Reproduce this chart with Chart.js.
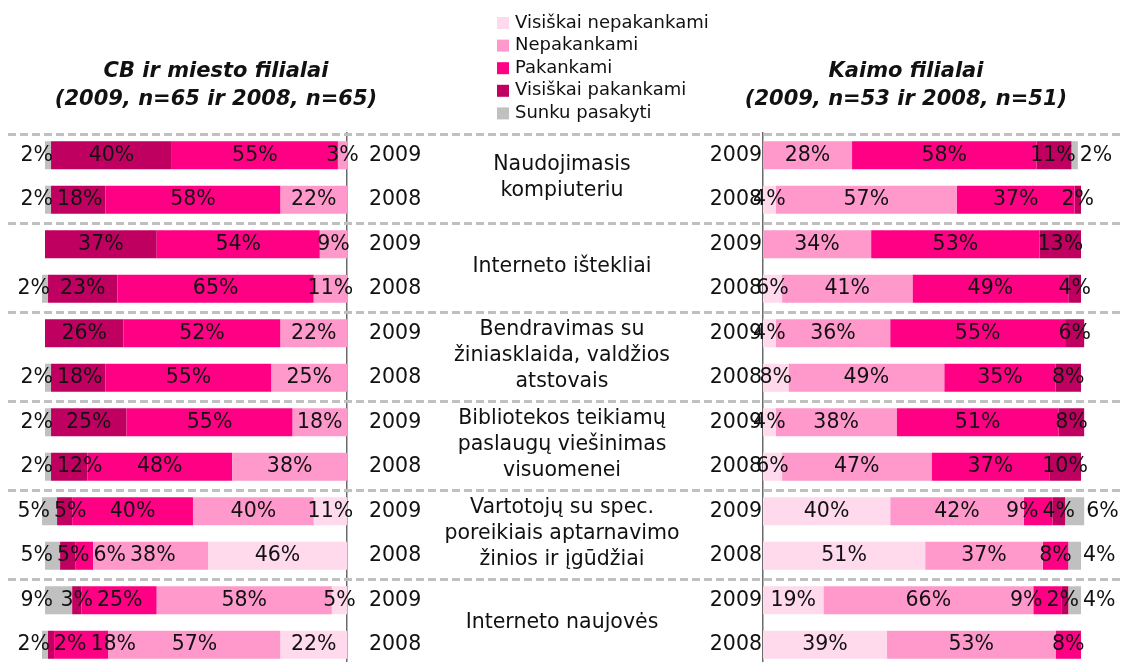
<!DOCTYPE html>
<html>
<head>
<meta charset="utf-8">
<script src="https://cdn.jsdelivr.net/npm/chart.js@4.4.1/dist/chart.umd.min.js"></script>
<style>
  html, body { margin: 0; padding: 0; background: #fff; overflow: hidden; }
  #wrap { position: relative; width: 1122px; height: 662px; overflow: hidden; }
  #wrap canvas { position: absolute; left: 0; top: 0; }
</style>
</head>
<body>
<div id="wrap">
  <!-- the last row runs past the bottom edge, so the canvases are taller than the page -->
  <canvas id="cityChart" width="1122" height="702"></canvas>
  <canvas id="ruralChart" width="1122" height="702"></canvas>
</div>
<script>
const years = ['2009', '2008', '2009', '2008', '2009', '2008', '2009', '2008', '2009', '2008', '2009', '2008'];
const groups = [
  ['Naudojimasis', 'kompiuteriu'],
  ['Interneto ištekliai'],
  ['Bendravimas su', 'žiniasklaida, valdžios', 'atstovais'],
  ['Bibliotekos teikiamų', 'paslaugų viešinimas', 'visuomenei'],
  ['Vartotojų su spec.', 'poreikiais aptarnavimo', 'žinios ir įgūdžiai'],
  ['Interneto naujovės']
];
const answers = ['Visiškai nepakankami', 'Nepakankami', 'Pakankami', 'Visiškai pakankami', 'Sunku pasakyti'];
const colors = ['#ffd9ec', '#ff99cc', '#ff0084', '#c00060', '#c0c0c0'];

// CB ir miesto filialai
const cityVeryInsufficient = [0, 0, 0, 0, 0, 0, 0, 0, 11, 46, 5, 22];
const cityInsufficient     = [3, 22, 9, 11, 22, 25, 18, 38, 40, 38, 58, 57];
const citySufficient       = [55, 58, 54, 65, 52, 55, 55, 48, 40, 6, 25, 18];
const cityFullySufficient  = [40, 18, 37, 23, 26, 18, 25, 12, 5, 5, 3, 2];
const cityHardToSay        = [2, 2, 0, 2, 0, 2, 2, 2, 5, 5, 9, 2];

// Kaimo filialai
const ruralVeryInsufficient = [0, 4, 0, 6, 4, 8, 4, 6, 40, 51, 19, 39];
const ruralInsufficient     = [28, 57, 34, 41, 36, 49, 38, 47, 42, 37, 66, 53];
const ruralSufficient       = [58, 37, 53, 49, 55, 35, 51, 37, 9, 8, 9, 8];
const ruralFullySufficient  = [11, 2, 13, 4, 6, 8, 8, 10, 4, 0, 2, 0];
const ruralHardToSay        = [2, 0, 0, 0, 0, 0, 0, 0, 6, 4, 4, 0];

const FONT = '"DejaVu Sans", Verdana, sans-serif';
const TEXT = '#111';

function makeDatasets(series) {
  return series.map((data, i) => ({
    label: answers[i],
    data: data,
    backgroundColor: colors[i],
    borderWidth: 0,
    barPercentage: 0.63,
    categoryPercentage: 1,
    clip: false
  }));
}

// percent labels, centred in each segment; "Sunku pasakyti" goes past the bar end
// and the others get nudged towards the axis when they would collide
const percentLabels = {
  id: 'percentLabels',
  afterDatasetsDraw(chart, args, opts) {
    const ctx = chart.ctx;
    const dir = opts.outward;
    const gap = 4;
    const last = chart.data.datasets.length - 1;
    ctx.save();
    ctx.font = '20.5px ' + FONT;
    ctx.fillStyle = TEXT;
    ctx.textBaseline = 'middle';
    ctx.textAlign = 'left';
    chart.data.labels.forEach((lbl, i) => {
      let limit = null;
      for (let d = last; d >= 0; d--) {
        const v = chart.data.datasets[d].data[i];
        if (!v) continue;
        const bar = chart.getDatasetMeta(d).data[i];
        const text = v + '%';
        const w = ctx.measureText(text).width;
        let left;
        if (d === last) {
          left = dir < 0 ? bar.x + 8 - w : bar.x + 2;
        } else {
          left = (bar.x + bar.base) / 2 - w / 2;
          if (limit !== null) {
            left = dir < 0 ? Math.max(left, limit) : Math.min(left, limit - w);
          }
        }
        ctx.fillText(text, left, bar.y);
        limit = dir < 0 ? left + w + gap : left - gap;
      }
    });
    ctx.restore();
  }
};

// separators, topic names, panel titles and legend
const frame = {
  id: 'frame',
  beforeDatasetsDraw(chart) {
    const ctx = chart.ctx;
    const y = chart.scales.y;
    const half = (y.getPixelForValue(1) - y.getPixelForValue(0)) / 2;
    ctx.save();
    ctx.strokeStyle = '#c0c0c0';
    ctx.lineWidth = 3;
    ctx.setLineDash([8, 4]);
    groups.forEach((g, k) => {
      const py = Math.round(y.getPixelForValue(2 * k) - half) + 1.5;
      ctx.beginPath();
      ctx.moveTo(8, py);
      ctx.lineTo(1120, py);
      ctx.stroke();
    });
    ctx.restore();
  },
  afterDraw(chart) {
    const ctx = chart.ctx;
    const y = chart.scales.y;
    ctx.save();
    ctx.fillStyle = TEXT;
    ctx.textBaseline = 'middle';

    ctx.textAlign = 'center';
    ctx.font = '20.5px ' + FONT;
    groups.forEach((lines, k) => {
      const cy = (y.getPixelForValue(2 * k) + y.getPixelForValue(2 * k + 1)) / 2;
      lines.forEach((line, j) => {
        ctx.fillText(line, 562, cy + (j - (lines.length - 1) / 2) * 26);
      });
    });

    ctx.font = 'italic bold 21px ' + FONT;
    ctx.fillText('CB ir miesto filialai', 216, 72);
    ctx.fillText('(2009, n=65 ir 2008, n=65)', 216, 100);
    ctx.fillText('Kaimo filialai', 906, 72);
    ctx.fillText('(2009, n=53 ir 2008, n=51)', 906, 100);

    ctx.textAlign = 'left';
    ctx.font = '18px ' + FONT;
    answers.forEach((name, i) => {
      const ly = 23 + i * 22.6;
      ctx.fillStyle = colors[i];
      ctx.fillRect(497, ly - 6, 12, 12);
      ctx.fillStyle = TEXT;
      ctx.fillText(name, 515, ly);
    });
    ctx.restore();
  }
};

function panelOptions(reverse, padding, yPosition, tickPadding) {
  return {
    indexAxis: 'y',
    responsive: false,
    animation: false,
    layout: { padding: padding },
    scales: {
      x: { stacked: true, min: 0, max: 100, reverse: reverse, display: false },
      y: {
        stacked: true,
        position: yPosition,
        grid: { display: false, drawTicks: false },
        border: { display: true, color: '#6a6a6a', width: 1.5 },
        ticks: { padding: tickPadding, color: TEXT, font: { family: FONT, size: 20.5 } },
        afterFit(scale) { scale.width = 100; }
      }
    },
    plugins: {
      legend: { display: false },
      tooltip: { enabled: false },
      percentLabels: { outward: reverse ? -1 : 1 }
    }
  };
}

new Chart(document.getElementById('cityChart'), {
  type: 'bar',
  data: {
    labels: years,
    datasets: makeDatasets([cityVeryInsufficient, cityInsufficient, citySufficient, cityFullySufficient, cityHardToSay])
  },
  options: panelOptions(true, { left: 45, right: 675, top: 133, bottom: 35 }, 'right', 22),
  plugins: [frame, percentLabels]
});

new Chart(document.getElementById('ruralChart'), {
  type: 'bar',
  data: {
    labels: years,
    datasets: makeDatasets([ruralVeryInsufficient, ruralInsufficient, ruralSufficient, ruralFullySufficient, ruralHardToSay])
  },
  options: panelOptions(false, { left: 663, right: 41, top: 133, bottom: 35 }, 'left', 1),
  plugins: [percentLabels]
});
</script>
</body>
</html>
